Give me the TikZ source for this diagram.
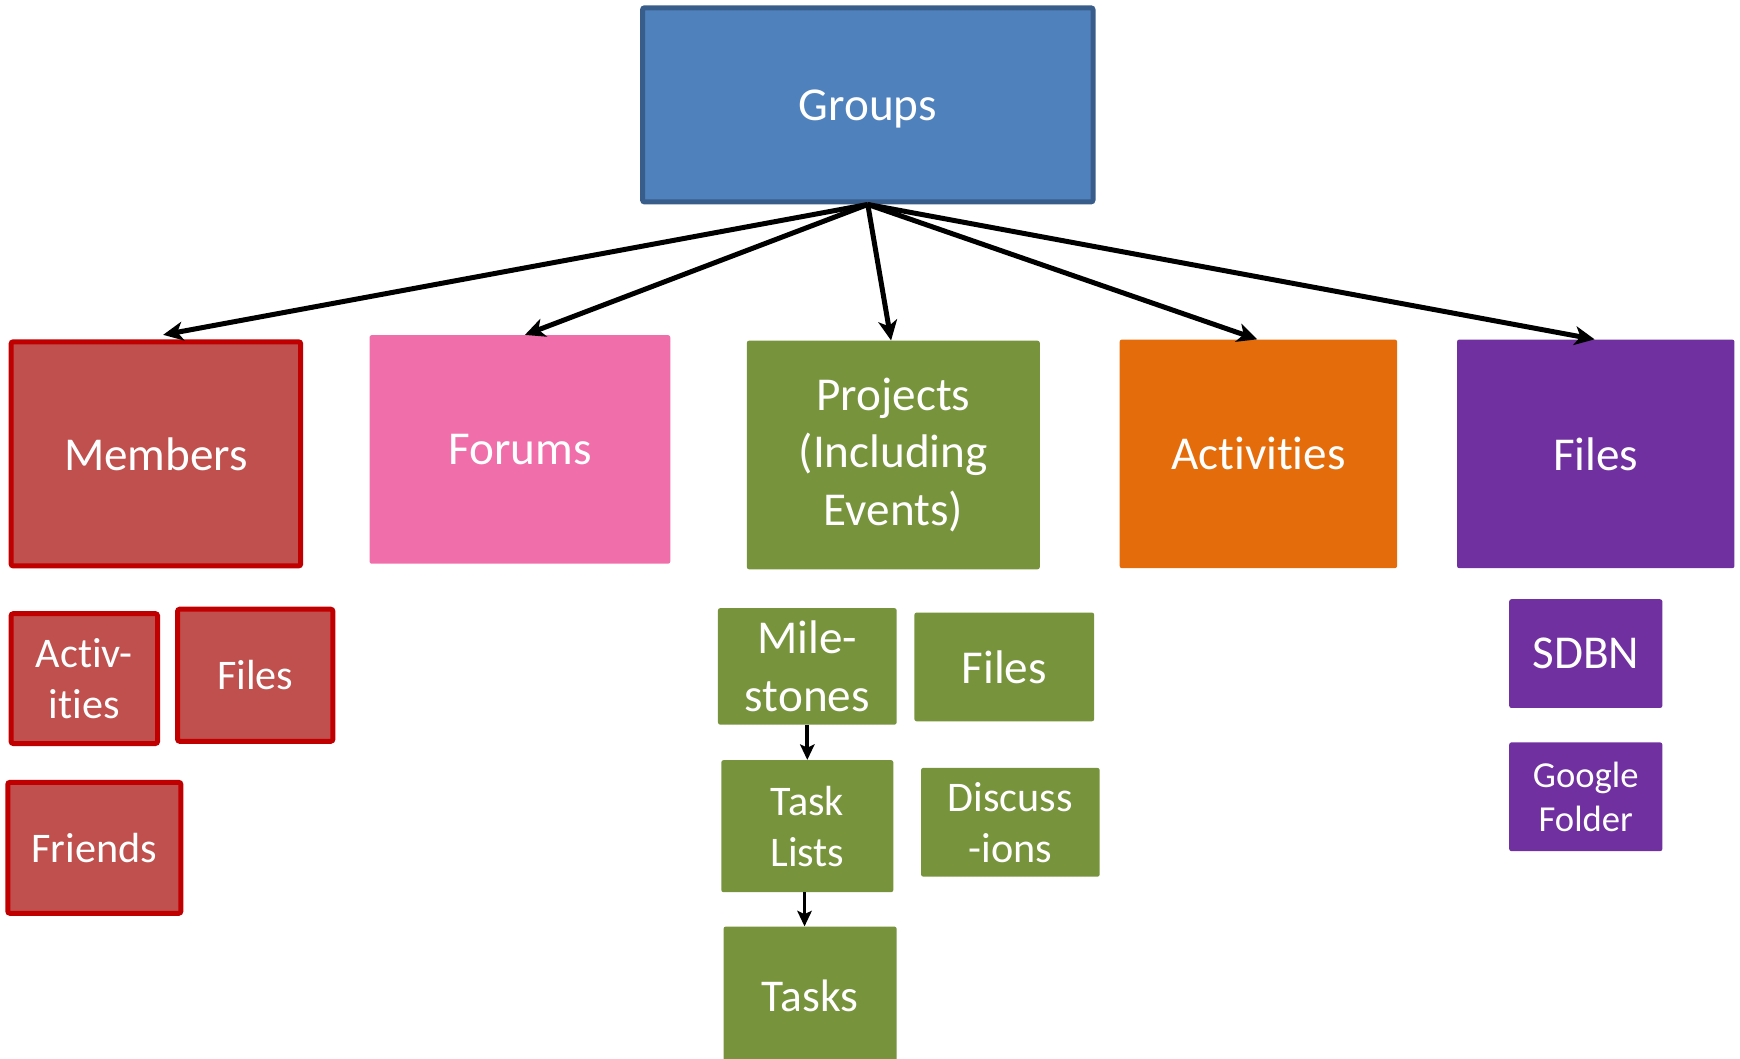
\documentclass[tikz,border=0pt]{standalone}
\usepackage{fontspec}
\setmainfont{Carlito}[Ligatures={NoCommon}]
\usetikzlibrary{arrows.meta}
\definecolor{gblue}{HTML}{4F81BD}
\definecolor{gblueb}{HTML}{385D8A}
\definecolor{mred}{HTML}{C0504D}
\definecolor{mredb}{HTML}{C00000}
\definecolor{fpink}{HTML}{F06EAA}
\definecolor{pgreen}{HTML}{77933C}
\definecolor{aorange}{HTML}{E46C0A}
\definecolor{fpurple}{HTML}{7030A0}
\tikzset{
  box/.style={rectangle, inner sep=0pt, rounded corners=2pt, text=white, align=center},
  big/.style={font=\fontsize{42.5}{52}\selectfont},
  mid/.style={font=\fontsize{38}{46}\selectfont},
  sml/.style={font=\fontsize{33}{40}\selectfont},
  redbox/.style={box, fill=mred, draw=mredb, line width=4.5pt},
  grn/.style={box, fill=pgreen},
  pur/.style={box, fill=fpurple},
  arr/.style={line width=4.5pt, -{Stealth[length=18pt,width=17pt,inset=5pt]}},
  sarr/.style={line width=3.5pt, -{Stealth[length=14pt,width=13pt,inset=3pt]}},
}
\begin{document}
\begin{tikzpicture}[x=1pt,y=-1pt]
\useasboundingbox (0,0) rectangle (1568,954);
% top
\node[box, big, fill=gblue, draw=gblueb, line width=4.5pt, minimum width=406pt, minimum height=175pt] (groups) at (782,94.5) {\raisebox{-4pt}[\height][\depth]{Groups}};
% second level
\node[redbox, big, minimum width=261pt, minimum height=202pt] (mem) at (140.5,409) {Members};
\node[box, big, fill=fpink, minimum width=271pt, minimum height=206pt] (forums) at (468.5,405) {Forums};
\node[grn, big, minimum width=264pt, minimum height=206pt] (proj) at (805,410) {Projects\\(Including\\Events)};
\node[box, big, fill=aorange, minimum width=250pt, minimum height=206pt] (act) at (1134,409) {Activities};
\node[pur, big, minimum width=250pt, minimum height=206pt] (files) at (1438,409) {Files};
% members children
\node[redbox, mid, minimum width=132pt, minimum height=117pt] (mact) at (76,611.5) {Activ-\\ities};
\node[redbox, mid, minimum width=140pt, minimum height=119pt] (mfiles) at (230,608.5) {Files};
\node[redbox, mid, minimum width=156pt, minimum height=118pt] (friends) at (85,764) {Friends};
% projects children
\node[grn, big, minimum width=161pt, minimum height=105pt] (miles) at (727.5,600.5) {Mile-\\stones};
\node[grn, big, minimum width=162pt, minimum height=98pt] (pfiles) at (905,601) {Files};
\node[grn, mid, minimum width=155pt, minimum height=119pt] (tlists) at (727.5,744.5) {Task\\Lists};
\node[grn, mid, minimum width=161pt, minimum height=98pt] (disc) at (910.5,741) {Discuss\\-ions};
\node[grn, font=\fontsize{41}{50}\selectfont, minimum width=156pt, minimum height=124pt] (tasks) at (730,897) {Tasks};
% files children
\node[pur, big, minimum width=138pt, minimum height=98pt] (sdbn) at (1429,589) {SDBN};
\node[pur, sml, minimum width=138pt, minimum height=98pt] (gfold) at (1429,718) {Google\\Folder};
% arrows
\draw[arr] (groups.south) -- ([xshift=6.5pt,yshift=4pt]mem.north);
\draw[arr] (groups.south) -- ([xshift=4.5pt]forums.north);
\draw[arr] (groups.south) -- ([xshift=-2pt]proj.north);
\draw[arr] (groups.south) -- ([xshift=-1pt]act.north);
\draw[arr] (groups.south) -- ([xshift=-1pt]files.north);
\draw[sarr] (miles.south) -- (tlists.north);
\draw[sarr] ([xshift=-2.5pt]tlists.south) -- ([xshift=-2.5pt]tlists.south |- tasks.north);
\end{tikzpicture}
\end{document}
